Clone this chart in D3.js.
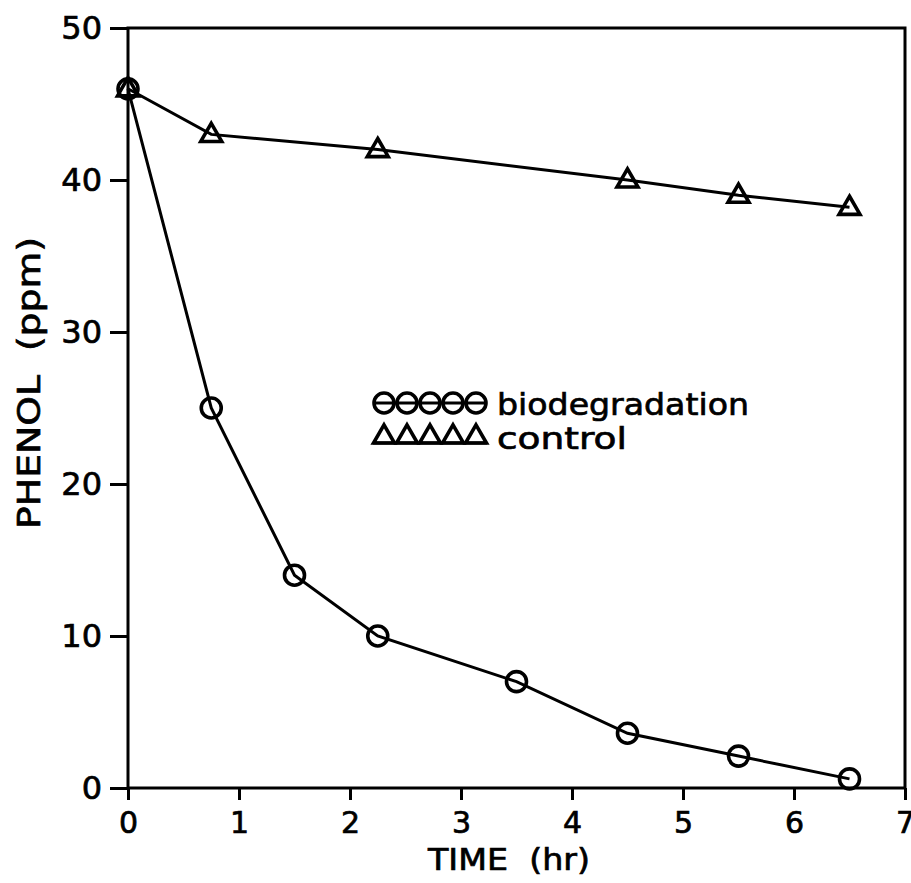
<!DOCTYPE html>
<html>
<head>
<meta charset="utf-8">
<script src="https://cdn.jsdelivr.net/npm/d3@7"></script>
<style>
  html, body { margin: 0; padding: 0; background: #fff; }
  svg text { font-family: "DejaVu Sans", sans-serif; fill: #000; stroke: #000; stroke-width: 0.7px; }
</style>
</head>
<body>
<svg id="chart" width="911" height="883"></svg>
<script>
// data
const bioTime  = [0, 0.75, 1.5, 2.25, 3.5, 4.5, 5.5, 6.5];
const bioPhenol = [46, 25, 14, 10, 7, 3.6, 2.1, 0.6];
const ctrlTime  = [0, 0.75, 2.25, 4.5, 5.5, 6.5];
const ctrlPhenol = [46, 43, 42, 40, 39, 38.2];
const xTicks = [0, 1, 2, 3, 4, 5, 6, 7];
const yTicks = [0, 10, 20, 30, 40, 50];
const legendLabels = ["biodegradation", "control"];

const svg = d3.select("#chart");
const mLeft = 128, mRight = 905, mTop = 28, mBottom = 788;
const lw = 3;

const x = d3.scaleLinear().domain([0, 7]).range([mLeft, mRight]);
const y = d3.scaleLinear().domain([0, 50]).range([mBottom, mTop]);

// frame
svg.append("rect")
  .attr("x", mLeft).attr("y", mTop)
  .attr("width", mRight - mLeft).attr("height", mBottom - mTop)
  .attr("fill", "none").attr("stroke", "#000").attr("stroke-width", lw);

// axes
let gx = svg.append("g").attr("transform", `translate(0,${mBottom})`)
  .call(d3.axisBottom(x).tickValues(xTicks).tickSize(12).tickPadding(12).tickFormat(d3.format("d")));
gx.select(".domain").remove();
gx.selectAll("line").attr("stroke-width", lw);
gx.selectAll("text").attr("font-size", 30);

let gy = svg.append("g").attr("transform", `translate(${mLeft},0)`)
  .call(d3.axisLeft(y).tickValues(yTicks).tickSize(18).tickPadding(8).tickFormat(d3.format("d")));
gy.select(".domain").remove();
gy.selectAll("line").attr("stroke-width", lw);
gy.selectAll("text").attr("font-size", 32);

// axis titles
svg.append("text")
  .attr("x", 509).attr("y", 870)
  .attr("text-anchor", "middle").attr("font-size", 30)
  .attr("textLength", 162).attr("lengthAdjust", "spacingAndGlyphs")
  .attr("xml:space", "preserve")
  .text("TIME  (hr)");

svg.append("text")
  .attr("transform", `translate(40,383) rotate(-90)`)
  .attr("text-anchor", "middle").attr("font-size", 32)
  .attr("textLength", 292).attr("lengthAdjust", "spacingAndGlyphs")
  .attr("xml:space", "preserve")
  .text("PHENOL  (ppm)");

const line = d3.line().x(d => x(d[0])).y(d => y(d[1]));
const bio = bioTime.map((t, i) => [t, bioPhenol[i]]);
const ctrl = ctrlTime.map((t, i) => [t, ctrlPhenol[i]]);

svg.append("path").datum(bio).attr("d", line)
  .attr("fill", "none").attr("stroke", "#000").attr("stroke-width", lw);
svg.append("path").datum(ctrl).attr("d", line)
  .attr("fill", "none").attr("stroke", "#000").attr("stroke-width", lw);

const tri = d3.symbol().type(d3.symbolTriangle).size(190);

svg.append("g").selectAll("circle").data(bio).join("circle")
  .attr("cx", d => x(d[0])).attr("cy", d => y(d[1])).attr("r", 10)
  .attr("fill", "none").attr("stroke", "#000").attr("stroke-width", 3.6);

svg.append("g").selectAll("path").data(ctrl).join("path")
  .attr("d", tri)
  .attr("transform", d => `translate(${x(d[0])},${y(d[1]) + 1})`)
  .attr("fill", "none").attr("stroke", "#000").attr("stroke-width", 3.6);

// legend
const lg = svg.append("g").attr("transform", "translate(373,403)");
lg.append("line").attr("x1", 0).attr("x2", 114).attr("y1", 0).attr("y2", 0)
  .attr("stroke", "#000").attr("stroke-width", lw);
lg.selectAll("circle").data(d3.range(5)).join("circle")
  .attr("cx", i => 11 + i * 23).attr("cy", 0).attr("r", 10)
  .attr("fill", "none").attr("stroke", "#000").attr("stroke-width", 3.6);
lg.append("line").attr("x1", 0).attr("x2", 114).attr("y1", 40).attr("y2", 40)
  .attr("stroke", "#000").attr("stroke-width", lw);
lg.selectAll("path").data(d3.range(5)).join("path")
  .attr("d", tri)
  .attr("transform", i => `translate(${11 + i * 23},${34})`)
  .attr("fill", "none").attr("stroke", "#000").attr("stroke-width", 3.6);
lg.selectAll("text").data(legendLabels).join("text")
  .attr("x", 124).attr("y", (d, i) => 12 + i * 34)
  .attr("font-size", 31)
  .attr("textLength", (d, i) => i === 0 ? 252 : 130)
  .attr("lengthAdjust", "spacingAndGlyphs")
  .text(d => d);
</script>
</body>
</html>
